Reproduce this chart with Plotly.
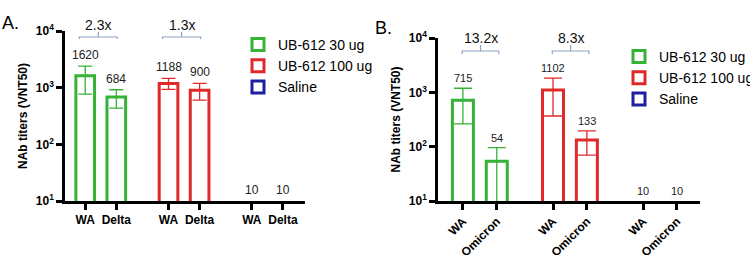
import numpy as np
import plotly.graph_objects as go

# ---------------- data ----------------
groups = ["UB-612 30 ug", "UB-612 100 ug", "Saline"]
variants_a = ["WA", "Delta"]
variants_b = ["WA", "Omicron"]

a_values = [[1620, 684], [1188, 900], [10, 10]]
a_upper = [[2400, 918], [1460, 1190], [10, 10]]
a_lower = [[770, 437], [933, 605], [10, 10]]
a_folds = ["2.3x", "1.3x"]

b_values = [[715, 54], [1102, 133], [10, 10]]
b_upper = [[1190, 96], [1820, 195], [10, 10]]
b_lower = [[262, 8], [367, 70], [10, 10]]
b_folds = ["13.2x", "8.3x"]

lod = 20
colors = ["#36b336", "#e02a2a", "#1e1e9e"]

W, H = 750, 255
FONT = "Liberation Sans, Arial, sans-serif"

fig = go.Figure()


def px_x(p):
    return p / W


def px_y(p):
    return (H - p) / H


def add_panel(suffix, legend_name, values, upper, lower, variants, folds, gap,
              bar_w, cap_w, bracket_y, bracket_drop, bracket_tick, fold_y,
              bracket_mid, bracket_half, label_font, axis_px):
    xa = "x" + suffix
    ya = "y" + suffix
    tickvals, ticktext = [], []
    for g, name in enumerate(groups):
        pos = [g * gap + v for v in range(len(variants))]
        tickvals += pos
        ticktext += variants
        vals = values[g]
        up = [u - v for u, v in zip(upper[g], vals)]
        lo = [v - l for l, v in zip(lower[g], vals)]
        has_err = any(e > 0 for e in up + lo)
        fig.add_trace(go.Bar(
            x=pos, y=vals, name=name, width=bar_w,
            xaxis=xa, yaxis=ya, legend=legend_name,
            marker=dict(color="white", line=dict(color=colors[g], width=3)),
            error_y=dict(type="data", symmetric=False, array=up, arrayminus=lo,
                         color=colors[g], thickness=1.3, width=cap_w,
                         visible=has_err),
            hoverinfo="x+y",
        ))
        if not has_err:
            # bars sitting on the axis floor are hidden by the axis in the original
            fig.add_shape(type="rect", xref=xa, yref="paper", layer="above",
                          x0=pos[0] - bar_w, x1=pos[-1] + bar_w,
                          y0=px_y(axis_px), y1=px_y(axis_px - 2.5),
                          line=dict(width=0), fillcolor="white")
        for p, v, u in zip(pos, vals, upper[g]):
            fig.add_annotation(x=p, y=np.log10(u), xref=xa, yref=ya,
                               text=str(v), showarrow=False, yanchor="bottom",
                               yshift=2, font=dict(size=label_font, color="#222",
                                                    family=FONT))
    # fold-change brackets
    for g, f in enumerate(folds):
        mid = g * gap + bracket_mid
        x0, x1 = mid - bracket_half, mid + bracket_half
        yb = px_y(bracket_y)
        yd = px_y(bracket_y + bracket_drop)
        yt = px_y(bracket_y - bracket_tick)
        fig.add_shape(type="path", xref=xa, yref="paper",
                      path=f"M{x0},{yd} L{x0},{yb} L{x1},{yb} L{x1},{yd} M{mid},{yb} L{mid},{yt}",
                      line=dict(color="#8ea3c4", width=1.2))
        fig.add_annotation(x=mid, y=px_y(fold_y), xref=xa, yref="paper", text=f,
                           showarrow=False, font=dict(size=14, color="#111", family=FONT))
    # limit of detection line
    fig.add_shape(type="line", xref=xa + " domain", yref=ya, x0=0, x1=1,
                  y0=np.log10(lod), y1=np.log10(lod), layer="above",
                  line=dict(color="#222", width=1.5 if suffix == "" else 1,
                            dash="dot" if suffix == "" else "3px,2px"))
    return tickvals, ticktext


tv_a, tt_a = add_panel("", "legend", a_values, a_upper, a_lower, variants_a, a_folds,
                       gap=2.68, bar_w=0.6, cap_w=7, bracket_y=37, bracket_drop=2,
                       bracket_tick=5, fold_y=15, bracket_mid=0.42, bracket_half=0.61,
                       label_font=12, axis_px=201)
tv_b, tt_b = add_panel("2", "legend2", b_values, b_upper, b_lower, variants_b, b_folds,
                       gap=2.66, bar_w=0.62, cap_w=9, bracket_y=51, bracket_drop=3,
                       bracket_tick=6, fold_y=28, bracket_mid=0.52, bracket_half=0.54,
                       label_font=11, axis_px=201)

ytickvals = [10, 100, 1000, 10000]
yticktext = [f"10<sup>{int(np.log10(v))}</sup>" for v in ytickvals]

axis_common = dict(showline=True, linecolor="black", linewidth=2.5, ticks="outside",
                   ticklen=6, tickwidth=2.5, tickcolor="black", showgrid=False,
                   zeroline=False, layer="above traces", automargin=False)

yaxis_common = dict(axis_common, type="log", range=[1, 4], tickvals=ytickvals,
                    ticktext=yticktext,
                    tickfont=dict(size=12, family=FONT, color="black", weight="bold"),
                    title=dict(text="NAb titers (VNT50)",
                               font=dict(size=12, family=FONT, color="black", weight="bold")))

fig.update_layout(
    width=W, height=H,
    margin=dict(l=0, r=0, t=0, b=0, autoexpand=False),
    paper_bgcolor="white", plot_bgcolor="white",
    barmode="overlay",
    showlegend=True,
    xaxis=dict(axis_common, domain=[px_x(65), px_x(305)], range=[-0.65, 7.07],
               tickvals=tv_a, ticktext=tt_a, tickangle=0,
               tickfont=dict(size=12, family=FONT, color="black", weight="bold"),
               anchor="y"),
    yaxis=dict(yaxis_common, domain=[px_y(201), px_y(31)], anchor="x"),
    xaxis2=dict(axis_common, domain=[px_x(438), px_x(700)], range=[-0.735, 7.0],
                tickvals=tv_b, ticktext=tt_b, tickangle=-45,
                tickfont=dict(size=12, family=FONT, color="black", weight="bold"),
                anchor="y2"),
    yaxis2=dict(yaxis_common, domain=[px_y(201), px_y(38)], anchor="x2"),
    legend=dict(x=px_x(238), y=px_y(29), xanchor="left", yanchor="top",
                font=dict(size=14, family=FONT, color="black"),
                bgcolor="rgba(0,0,0,0)", tracegroupgap=0),
    legend2=dict(x=px_x(619), y=px_y(41), xanchor="left", yanchor="top",
                 font=dict(size=14, family=FONT, color="black"),
                 bgcolor="rgba(0,0,0,0)", tracegroupgap=0),
    font=dict(family=FONT),
)
fig.update_yaxes(title_standoff=6)

fig.add_annotation(x=0, y=px_y(11), xref="paper", yref="paper", text="A.",
                   showarrow=False, xanchor="left", font=dict(size=18, family=FONT, color="black"))
fig.add_annotation(x=px_x(373), y=px_y(16), xref="paper", yref="paper", text="B.",
                   showarrow=False, xanchor="left", font=dict(size=18, family=FONT, color="black"))

fig.write_html("out.html", config={"displayModeBar": False},
               post_script="document.body.style.margin='0';document.body.style.overflow='hidden';")
